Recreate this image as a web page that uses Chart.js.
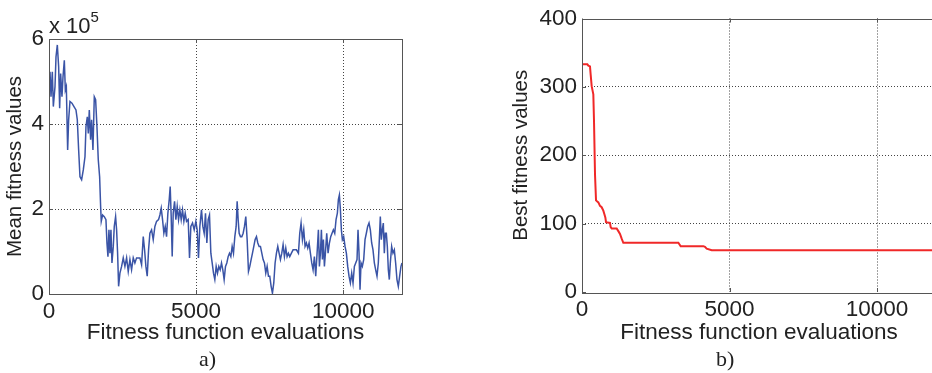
<!DOCTYPE html>
<html>
<head>
<meta charset="utf-8">
<script src="https://cdn.jsdelivr.net/npm/chart.js@4.4.1/dist/chart.umd.min.js"></script>
<style>
  html, body { margin: 0; padding: 0; background: #fff; }
  #wrap { position: relative; width: 932px; height: 373px; overflow: hidden; }
  canvas { position: absolute; top: 0; }
  .lbl { position: absolute; color: #222; white-space: nowrap; }
  .exp { font-family: 'Liberation Sans', Arial, sans-serif; font-size: 22px; left: 49px; top: 11px; }
  .exp sup { font-size: 15px; position: relative; top: -3px; }
  .cap { font-family: 'Liberation Serif', 'Times New Roman', serif; font-size: 22px; top: 346px; }
</style>
</head>
<body>
<div id="wrap">
  <canvas id="chartA" width="466" height="373" style="left:0"></canvas>
  <canvas id="chartB" width="470" height="373" style="left:466px"></canvas>
  <div class="lbl exp">x 10<sup>5</sup></div>
  <div class="lbl cap" style="left:199px">a)</div>
  <div class="lbl cap" style="left:716px">b)</div>
</div>
<script>
// left panel: mean fitness (in units of 1e5)
const evalsA = [0, 34, 68, 113, 147, 204, 238, 283, 328, 362, 396, 441, 476, 521, 555, 589, 634, 668, 713, 781,
  849, 917, 962, 1008, 1053, 1109, 1166, 1223, 1257, 1302, 1336, 1370, 1415, 1449, 1494, 1540, 1585, 1630, 1675, 1721,
  1755, 1777, 1823, 1879, 1936, 1970, 2004, 2038, 2072, 2106, 2140, 2185, 2219, 2264, 2298, 2332, 2366, 2411, 2468, 2524,
  2581, 2638, 2694, 2751, 2807, 2864, 2920, 2977, 3090, 3147, 3204, 3249, 3294, 3339, 3385, 3430, 3487, 3543, 3600, 3656,
  3724, 3770, 3815, 3860, 3905, 3951, 3996, 4041, 4087, 4120, 4154, 4188, 4222, 4268, 4313, 4358, 4404, 4449, 4494, 4539,
  4585, 4630, 4675, 4732, 4777, 4822, 4879, 4936, 4992, 5037, 5082, 5128, 5184, 5230, 5275, 5320, 5366, 5411, 5456, 5502,
  5547, 5592, 5637, 5683, 5728, 5773, 5819, 5864, 5909, 5954, 6000, 6045, 6090, 6135, 6181, 6226, 6271, 6317, 6362, 6396,
  6430, 6464, 6509, 6555, 6600, 6645, 6690, 6736, 6781, 6826, 6871, 6917, 6962, 7007, 7053, 7098, 7143, 7188, 7234, 7279,
  7324, 7369, 7415, 7460, 7505, 7551, 7596, 7641, 7686, 7732, 7777, 7822, 7867, 7913, 7958, 8003, 8049, 8094, 8139, 8184,
  8241, 8298, 8411, 8479, 8524, 8569, 8615, 8660, 8705, 8750, 8796, 8841, 8886, 8932, 8977, 9022, 9067, 9113, 9158, 9192,
  9226, 9260, 9294, 9328, 9362, 9396, 9441, 9487, 9532, 9577, 9622, 9667, 9713, 9758, 9803, 9837, 9871, 9905, 9939, 9973,
  10018, 10064, 10109, 10154, 10199, 10245, 10290, 10335, 10381, 10426, 10471, 10505, 10539, 10573, 10607, 10652, 10698, 10743, 10788, 10833,
  10879, 10924, 10969, 11014, 11060, 11105, 11150, 11195, 11229, 11263, 11297, 11331, 11365, 11399, 11433, 11467, 11501, 11535, 11569, 11603,
  11648, 11693, 11739, 11784, 11829, 11875, 11920, 11965, 12000];
const meanVals = [5.03, 5.23, 4.64, 5.23, 4.41, 4.88, 5.58, 5.86, 5.35, 4.37, 5.19, 4.64, 5.11, 5.50, 4.80, 4.88, 3.39, 4.10, 4.53, 4.49,
  4.41, 4.33, 4.10, 3.39, 2.76, 2.69, 2.92, 3.23, 3.94, 4.17, 3.78, 4.33, 3.63, 4.10, 3.39, 4.64, 4.57, 3.94, 3.16, 2.76,
  2.06, 1.71, 1.86, 1.82, 1.75, 1.20, 0.88, 1.51, 0.96, 1.51, 0.73, 1.12, 1.59, 1.82, 1.51, 0.96, 0.18, 0.49, 0.65, 0.85,
  0.65, 0.85, 0.53, 0.81, 0.57, 0.85, 0.73, 0.85, 0.85, 0.69, 1.35, 1.04, 0.65, 0.42, 1.04, 1.43, 1.51, 1.28, 1.59, 1.71,
  1.75, 1.86, 2.02, 1.75, 1.43, 1.59, 1.35, 1.90, 2.22, 2.53, 1.82, 0.88, 1.90, 2.18, 1.75, 2.06, 1.75, 1.98, 1.75, 1.98,
  1.71, 1.90, 1.71, 1.75, 0.85, 1.59, 1.67, 1.51, 1.71, 1.51, 0.85, 1.59, 1.98, 1.59, 1.43, 1.90, 1.20, 1.75, 1.86, 0.96,
  0.73, 0.49, 0.34, 0.65, 0.49, 0.65, 0.57, 0.73, 0.57, 0.34, 0.65, 0.73, 0.88, 0.96, 0.88, 1.12, 0.96, 1.35, 1.59, 2.18,
  1.75, 1.43, 1.35, 1.35, 1.43, 1.59, 1.82, 1.28, 0.53, 0.65, 0.81, 0.96, 1.12, 1.28, 1.35, 1.20, 1.12, 1.12, 0.96, 0.81,
  0.73, 0.49, 0.65, 0.42, 0.42, 0.18, 0.02, 0.26, 0.73, 0.96, 1.12, 0.96, 0.81, 0.96, 1.16, 0.88, 1.08, 0.88, 0.96, 0.88,
  0.96, 1.04, 1.04, 0.96, 1.43, 1.67, 1.28, 1.51, 1.12, 1.20, 1.08, 1.20, 0.96, 0.73, 0.57, 0.88, 0.42, 0.96, 1.51, 0.65,
  0.96, 1.51, 0.81, 1.28, 0.65, 0.96, 1.43, 0.96, 1.20, 1.35, 1.43, 1.51, 1.43, 1.75, 1.90, 2.22, 2.33, 2.00, 1.51, 1.28,
  1.35, 1.12, 0.96, 0.65, 0.42, 0.26, 0.49, 0.26, 0.65, 0.73, 0.81, 1.51, 0.96, 0.10, 0.73, 0.65, 0.81, 1.28, 1.43, 1.59,
  1.67, 1.51, 1.20, 1.04, 0.73, 0.57, 0.42, 0.73, 1.28, 1.82, 1.28, 1.51, 1.67, 0.96, 1.43, 1.43, 1.12, 0.57, 0.34, 0.73,
  1.12, 0.96, 1.04, 0.73, 0.34, 0.18, 0.42, 0.65, 0.73];

// right panel: best fitness
const evalsB = [0, 181, 215, 271, 294, 328, 384, 407, 441, 475, 554, 610, 667, 723, 757, 791, 814, 949, 972, 1006,
  1175, 1232, 1288, 1345, 1401, 3266, 3345, 4113, 4169, 4226, 4396, 12000];
const bestVals = [333, 333, 331, 330, 318, 301, 289, 250, 172, 134, 131, 126, 124, 119, 114, 109, 102, 101, 95, 93,
  93, 89, 85, 78, 72, 72, 67, 67, 66, 63.5, 61, 61];

const xTicks = [0, 5000, 10000];
const yTicksA = [0, 2, 4, 6];
const yTicksB = [0, 100, 200, 300, 400];

Chart.defaults.font.family = "'Liberation Sans', Arial, sans-serif";
Chart.defaults.font.size = 22.5;
Chart.defaults.color = '#222';

// MATLAB style box with inward ticks
const boxPlugin = {
  id: 'box',
  afterDraw(chart) {
    const { ctx, chartArea: a, scales } = chart;
    ctx.save();
    ctx.strokeStyle = '#555';
    ctx.lineWidth = 1;
    ctx.strokeRect(Math.round(a.left) + 0.5, Math.round(a.top) + 0.5,
      Math.round(a.right - a.left), Math.round(a.bottom - a.top));
    ctx.beginPath();
    scales.x.ticks.forEach(t => {
      const px = Math.round(scales.x.getPixelForValue(t.value)) + 0.5;
      ctx.moveTo(px, a.bottom); ctx.lineTo(px, a.bottom - 4);
      ctx.moveTo(px, a.top); ctx.lineTo(px, a.top + 4);
    });
    scales.y.ticks.forEach(t => {
      const py = Math.round(scales.y.getPixelForValue(t.value)) + 0.5;
      ctx.moveTo(a.left, py); ctx.lineTo(a.left + 4, py);
      ctx.moveTo(a.right, py); ctx.lineTo(a.right - 4, py);
    });
    ctx.stroke();
    ctx.restore();
  }
};

function makeChart(id, xs, ys, color, width, yMax, yTicks, yTitle, pad, yW, xH) {
  return new Chart(document.getElementById(id), {
    type: 'line',
    data: {
      datasets: [{
        data: xs.map((x, i) => ({ x: x, y: ys[i] })),
        borderColor: color,
        borderWidth: width,
        pointRadius: 0,
        tension: 0,
        fill: false
      }]
    },
    options: {
      responsive: false,
      animation: false,
      events: [],
      layout: { padding: pad },
      plugins: { legend: { display: false }, tooltip: { enabled: false } },
      scales: {
        x: {
          type: 'linear',
          min: 0,
          max: 12000,
          afterBuildTicks: s => { s.ticks = xTicks.map(v => ({ value: v })); },
          afterFit: s => { s.height = xH; },
          ticks: { padding: 4, maxRotation: 0, callback: v => String(v) },
          grid: {
            drawTicks: false,
            color: c => (c.tick && c.tick.value > 0) ? '#444' : 'transparent',
            lineWidth: 1
          },
          border: { display: false, dash: [1, 2] },
          title: { display: true, text: 'Fitness function evaluations', padding: { top: 0, bottom: 27 } }
        },
        y: {
          min: 0,
          max: yMax,
          afterBuildTicks: s => { s.ticks = yTicks.map(v => ({ value: v })); },
          afterFit: s => { s.width = yW; },
          ticks: { padding: 5, callback: v => String(v) },
          grid: {
            drawTicks: false,
            color: c => (c.tick && c.tick.value > 0 && c.tick.value < yMax) ? '#444' : 'transparent',
            lineWidth: 1
          },
          border: { display: false, dash: [1, 2] },
          title: { display: true, text: yTitle, font: { size: 20.5 }, padding: { top: 3, bottom: 0 } }
        }
      }
    },
    plugins: [boxPlugin]
  });
}

makeChart('chartA', evalsA, meanVals, '#3a54a6', 1.5, 6, yTicksA, 'Mean fitness values',
  { left: 0, top: 39, right: 64, bottom: 0 }, 49, 79);
makeChart('chartB', evalsB, bestVals, '#f02828', 2, 400, yTicksB, 'Best fitness values',
  { left: 40, top: 17, right: 0, bottom: 0 }, 76, 81);
</script>
</body>
</html>
